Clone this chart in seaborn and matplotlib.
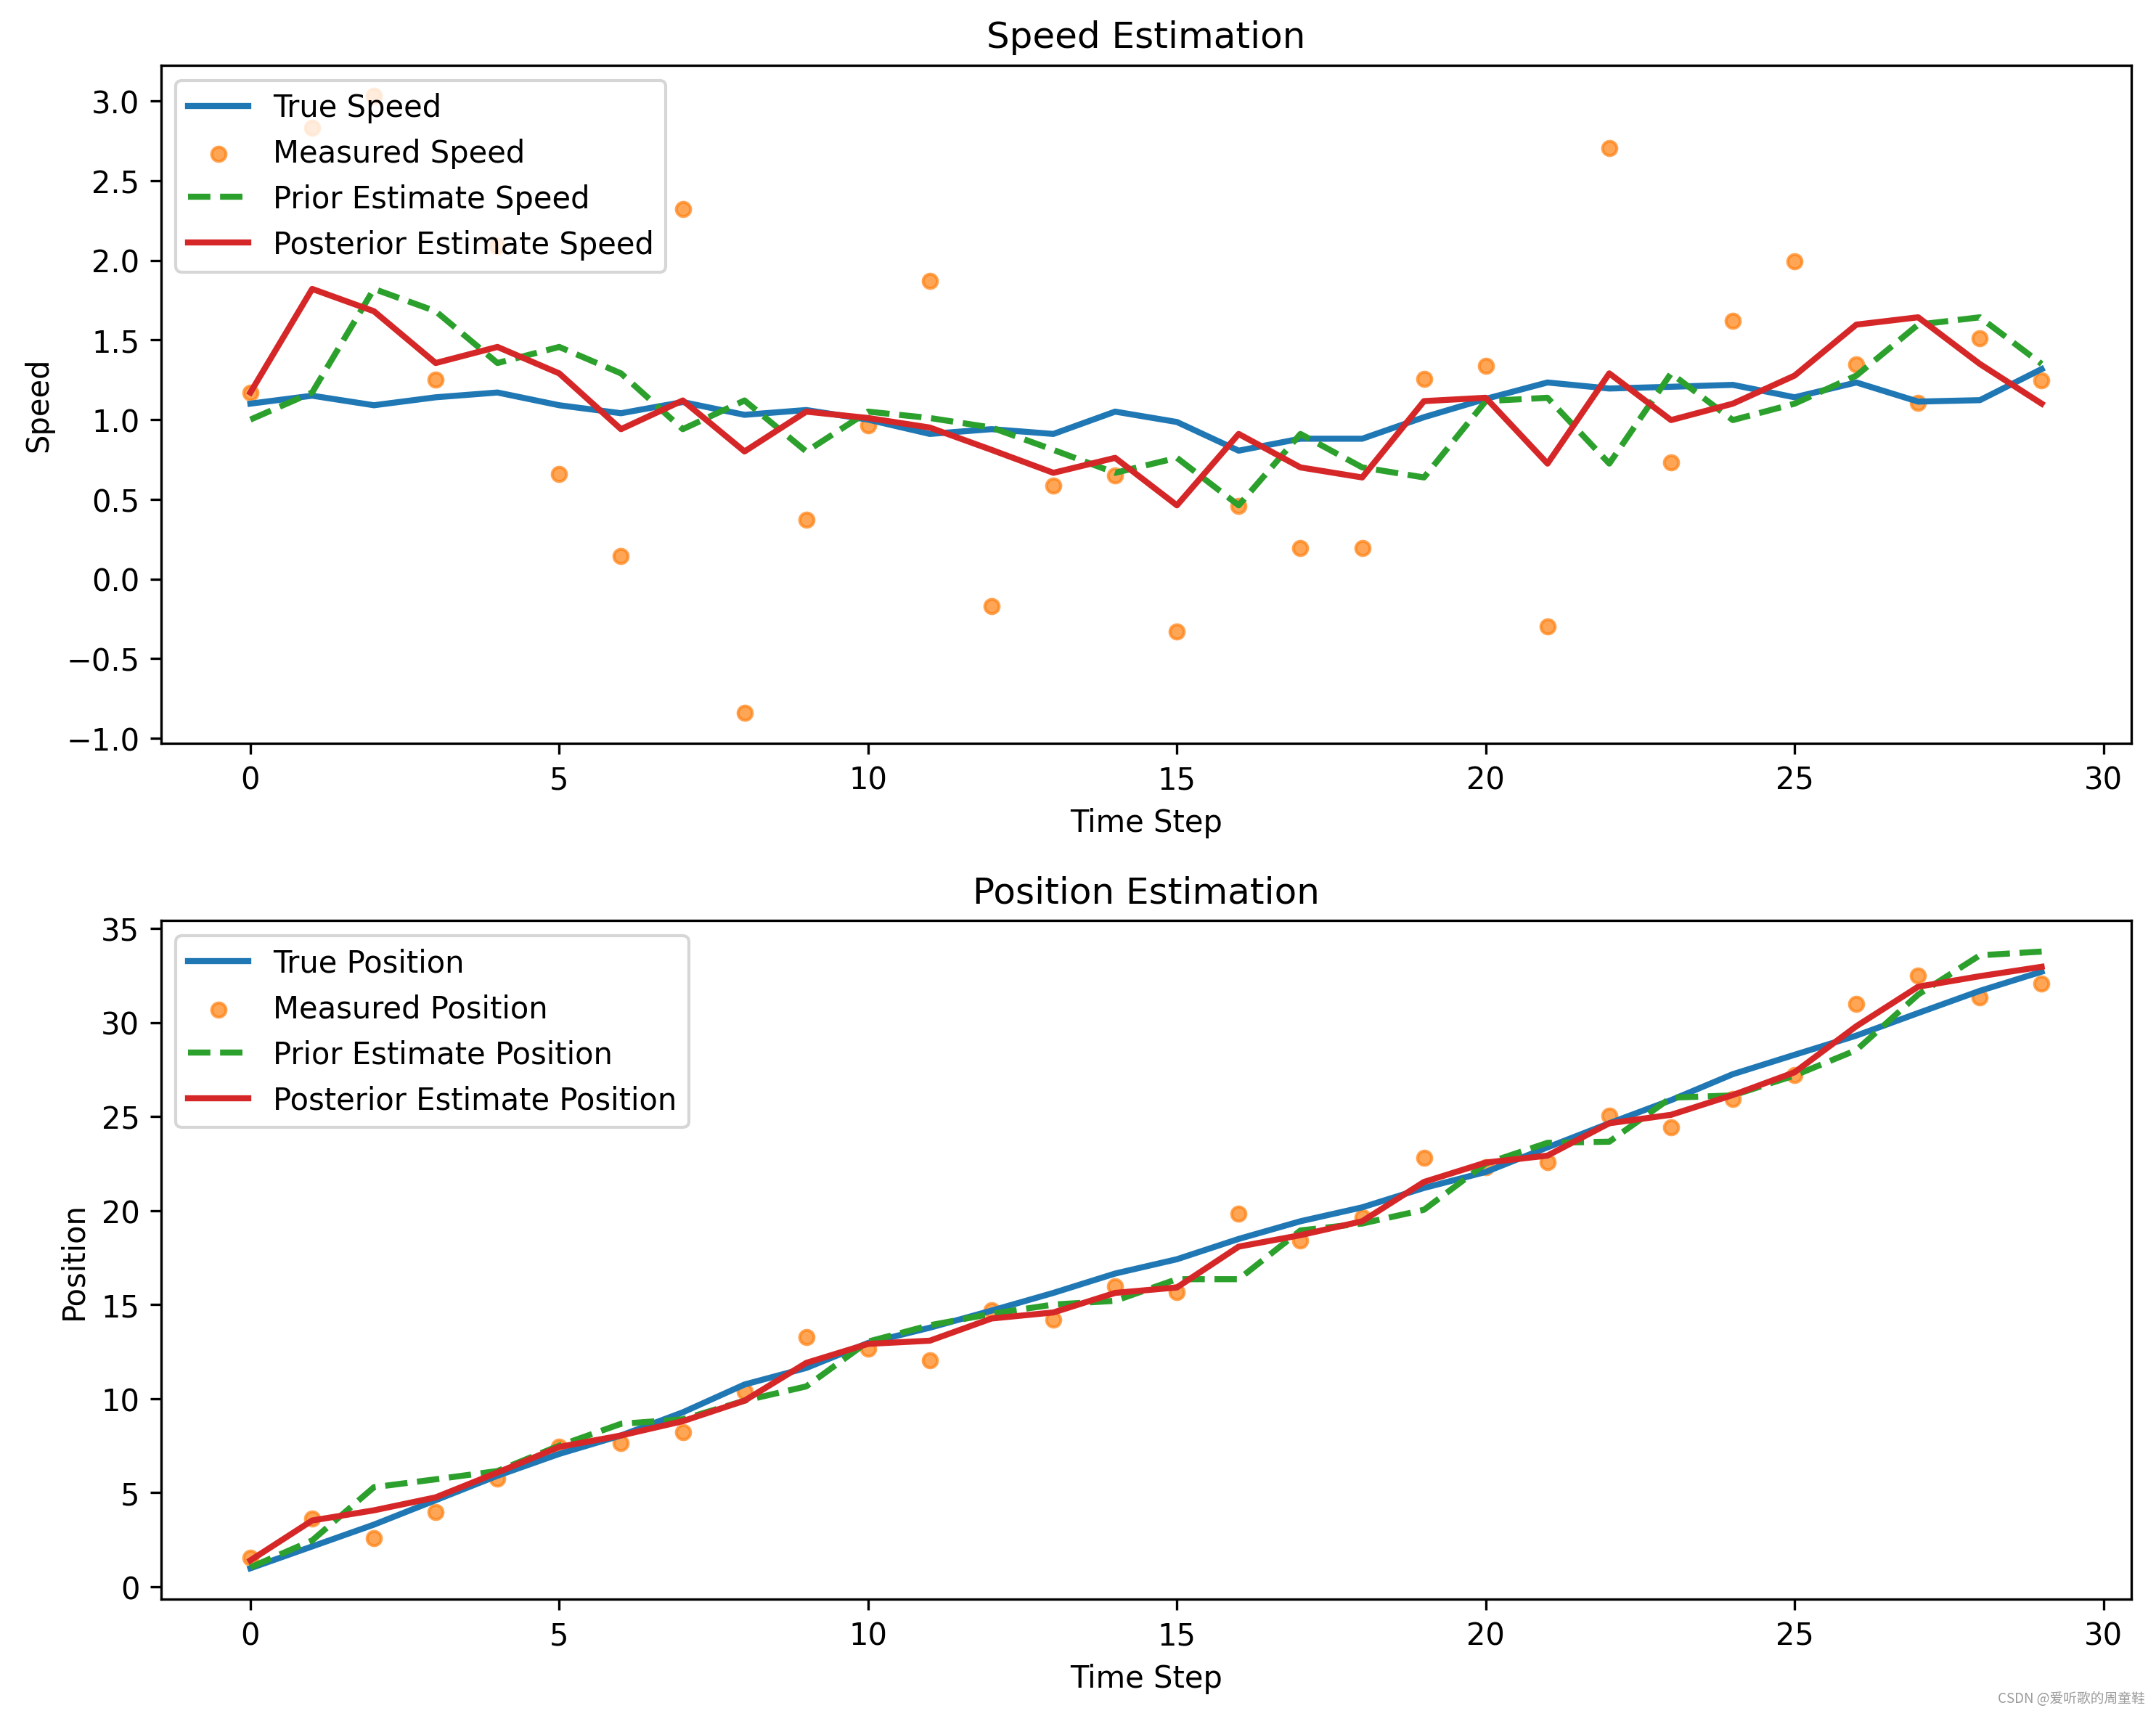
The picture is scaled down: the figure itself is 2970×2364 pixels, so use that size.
import matplotlib
matplotlib.use('Agg')
import matplotlib.pyplot as plt
import seaborn as sns
import pandas as pd

time_steps = list(range(30))

true_speed = [1.10, 1.15, 1.09, 1.14, 1.17, 1.09, 1.04, 1.11, 1.03, 1.06,
              1.00, 0.91, 0.94, 0.91, 1.05, 0.985, 0.805, 0.88, 0.88, 1.015,
              1.13, 1.233, 1.195, 1.206, 1.218, 1.14, 1.233, 1.113, 1.122, 1.317]
measured_speed = [1.17, 2.83, 3.03, 1.25, 2.09, 0.66, 0.145, 2.32, -0.84, 0.37,
                  0.965, 1.87, -0.17, 0.587, 0.65, -0.33, 0.46, 0.195, 0.195, 1.256,
                  1.337, -0.297, 2.706, 0.733, 1.62, 1.994, 1.346, 1.105, 1.509, 1.244]
prior_speed = [1.00, 1.17, 1.82, 1.68, 1.355, 1.456, 1.29, 0.94, 1.12, 0.80,
               1.05, 1.01, 0.95, 0.81, 0.666, 0.76, 0.462, 0.91, 0.70, 0.637,
               1.116, 1.137, 0.724, 1.29, 0.997, 1.10, 1.276, 1.596, 1.642, 1.349]
posterior_speed = [1.17, 1.82, 1.68, 1.355, 1.456, 1.29, 0.94, 1.12, 0.80, 1.05,
                   1.01, 0.95, 0.81, 0.666, 0.76, 0.462, 0.91, 0.70, 0.637, 1.116,
                   1.137, 0.724, 1.29, 0.997, 1.10, 1.276, 1.596, 1.642, 1.349, 1.10]

true_position = [0.98, 2.14, 3.30, 4.60, 5.90, 7.06, 8.04, 9.27, 10.75, 11.63,
                 12.96, 13.77, 14.68, 15.62, 16.65, 17.41, 18.49, 19.43, 20.17, 21.20,
                 22.05, 23.36, 24.64, 25.87, 27.25, 28.28, 29.30, 30.50, 31.68, 32.70]
measured_position = [1.52, 3.62, 2.58, 3.96, 5.73, 7.43, 7.62, 8.21, 10.38, 13.26,
                     12.67, 12.05, 14.68, 14.19, 15.96, 15.67, 19.85, 18.42, 19.63, 22.80,
                     22.30, 22.58, 25.06, 24.42, 25.92, 27.20, 31.00, 32.49, 31.33, 32.07]
prior_position = [1.03, 2.46, 5.29, 5.71, 6.15, 7.50, 8.66, 8.90, 9.89, 10.65,
                  13.03, 13.90, 14.51, 15.00, 15.20, 16.35, 16.35, 18.94, 19.31, 20.04,
                  22.50, 23.60, 23.66, 26.00, 26.12, 27.18, 28.53, 31.48, 33.57, 33.77]
posterior_position = [1.40, 3.52, 4.06, 4.75, 6.07, 7.43, 8.04, 8.80, 9.89, 11.90,
                      12.91, 13.08, 14.26, 14.58, 15.62, 15.91, 18.08, 18.69, 19.43, 21.52,
                      22.55, 22.92, 24.64, 25.09, 26.14, 27.35, 29.80, 31.90, 32.46, 32.96]

speed = pd.DataFrame({'t': time_steps, 'true': true_speed, 'meas': measured_speed,
                      'prior': prior_speed, 'post': posterior_speed})
position = pd.DataFrame({'t': time_steps, 'true': true_position, 'meas': measured_position,
                         'prior': prior_position, 'post': posterior_position})


def plot_panel(df, name, ax):
    sns.lineplot(data = df, x = 't', y = 'true', color = 'C0', linewidth = 2,
                 label = f'True {name}', ax = ax)
    sns.scatterplot(data = df, x = 't', y = 'meas', color = 'C1', s = 22, alpha = 0.7,
                    edgecolor = 'C1', linewidth = 1, label = f'Measured {name}', ax = ax)
    sns.lineplot(data = df, x = 't', y = 'prior', color = 'C2', linewidth = 2,
                 linestyle = '--', label = f'Prior Estimate {name}', ax = ax)
    sns.lineplot(data = df, x = 't', y = 'post', color = 'C3', linewidth = 2,
                 label = f'Posterior Estimate {name}', ax = ax)
    ax.set_title(f'{name} Estimation', fontsize = 12)
    ax.set_xlabel('Time Step')
    ax.set_ylabel(name)
    ax.set_xticks([0, 5, 10, 15, 20, 25, 30])
    ax.legend(loc = 'upper left')


fig, axs = plt.subplots(2, 1, figsize = (9.9, 7.883), dpi = 300)
plot_panel(speed, 'Speed', axs[0])
plot_panel(position, 'Position', axs[1])
fig.subplots_adjust(left = 0.0746, right = 0.9885, top = 0.9616, bottom = 0.0681, hspace = 0.261)

fig.text(0.995, 0.006, 'CSDN @爱听歌的周童鞋', ha = 'right', va = 'bottom',
         fontsize = 4.5, color = '#9a9a9a',
         family = ['Noto Sans CJK SC', 'DejaVu Sans'])

fig.savefig('out.png', dpi = 300)
